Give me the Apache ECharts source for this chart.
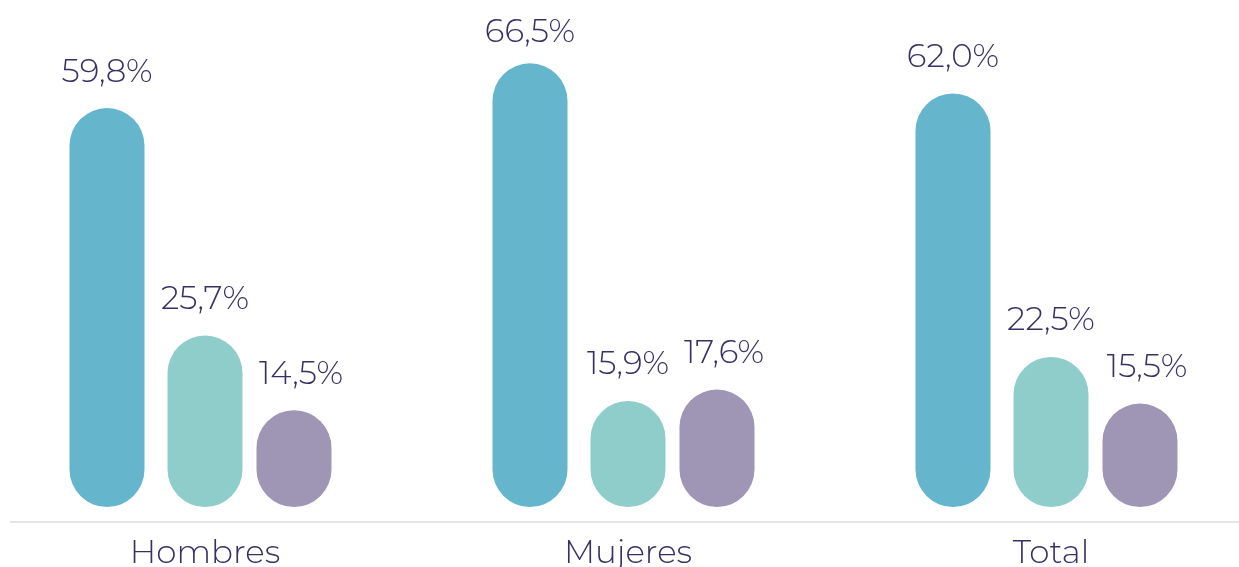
<!DOCTYPE html>
<html>
<head>
<meta charset="utf-8">
<script src="https://cdn.jsdelivr.net/npm/echarts@6/dist/echarts.min.js"></script>
<style>
  html, body { margin: 0; padding: 0; background: #fff; }
  #main { width: 1239px; height: 567px; }
</style>
</head>
<body>
<div id="main"></div>
<script>
var categories = ["Hombres", "Mujeres", "Total"];
var serieA = [59.8, 66.5, 62.0];
var serieB = [25.7, 15.9, 22.5];
var serieC = [14.5, 17.6, 15.5];

var colores = ["#65B6CC", "#8FCDCA", "#9F95B4"];
var textColor = "#363063";
var fuente = "Montserrat, Lato, 'Open Sans', sans-serif";

// each series sits in its own grid so the gaps between bars can differ
var offsets = [-104.5, -6.5, 82.5];
var labelShift = [0, 0, 7];
var datos = [serieA, serieB, serieC];

var chart = echarts.init(document.getElementById("main"));

function fmt(p) {
  return p.value.toFixed(1).replace(".", ",") + "%";
}

var grids = [], xAxes = [], yAxes = [], series = [];
for (var i = 0; i < 3; i++) {
  grids.push({
    left: offsets[i], top: 0, width: 1269, height: 522,
    containLabel: false, outerBoundsMode: "none"
  });
  xAxes.push({
    type: "category",
    gridIndex: i,
    data: categories,
    axisLine: { show: false },
    axisTick: { show: false },
    splitLine: { show: false },
    axisLabel: {
      show: i === 1,
      color: textColor,
      fontFamily: fuente,
      fontWeight: 300,
      fontSize: 32.5,
      margin: 15
    }
  });
  yAxes.push({
    type: "value",
    gridIndex: i,
    min: -2.25,
    max: 76,
    show: false
  });
  var items = datos[i].map(function (v, j) {
    // the tallest label sits a bit closer to its bar in the original
    if (i === 0 && j === 1) return { value: v, label: { distance: 14 } };
    return v;
  });
  series.push({
    type: "bar",
    xAxisIndex: i,
    yAxisIndex: i,
    data: items,
    barWidth: 75,
    itemStyle: { color: colores[i], borderRadius: 37.5 },
    label: {
      show: true,
      position: "top",
      distance: 19.5,
      offset: [labelShift[i], 0],
      formatter: fmt,
      color: textColor,
      fontFamily: fuente,
      fontWeight: 300,
      fontSize: 32.5
    }
  });
}

chart.setOption({
  animation: false,
  grid: grids,
  xAxis: xAxes,
  yAxis: yAxes,
  series: series,
  graphic: [{
    type: "line",
    shape: { x1: 10, y1: 522, x2: 1239, y2: 522 },
    style: { stroke: "#CBC8D8", lineWidth: 1.2 }
  }]
});
</script>
</body>
</html>
